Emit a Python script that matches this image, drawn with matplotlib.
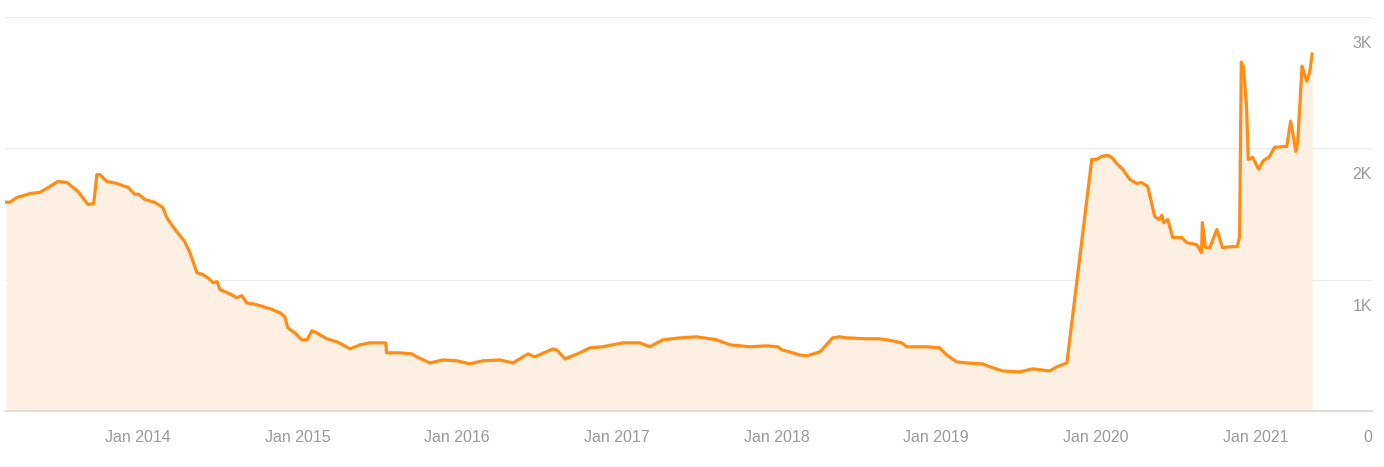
import matplotlib.pyplot as plt
import matplotlib.transforms as mtransforms
import pandas as pd

# values (date, value)
dates = [
    '2013-03-05', '2013-03-14', '2013-03-30', '2013-04-29', '2013-05-22', '2013-06-14',
    '2013-07-02', '2013-07-23', '2013-08-17', '2013-09-09', '2013-09-22', '2013-09-29',
    '2013-10-06', '2013-10-22', '2013-11-14', '2013-12-02', '2013-12-09', '2013-12-25',
    '2014-01-03', '2014-01-17', '2014-02-09', '2014-02-27', '2014-03-08', '2014-03-22',
    '2014-04-07', '2014-04-18', '2014-04-30', '2014-05-16', '2014-05-30', '2014-06-10',
    '2014-06-22', '2014-07-01', '2014-07-08', '2014-07-30', '2014-08-15', '2014-08-27',
    '2014-09-07', '2014-09-30', '2014-10-30', '2014-11-22', '2014-12-03', '2014-12-10',
    '2014-12-26', '2015-01-11', '2015-01-23', '2015-02-03', '2015-02-14', '2015-03-09',
    '2015-04-01', '2015-04-15', '2015-05-01', '2015-05-24', '2015-06-16', '2015-07-08',
    '2015-07-22', '2015-07-24', '2015-08-23', '2015-09-20', '2015-10-01', '2015-10-31',
    '2015-11-30', '2016-01-01', '2016-01-30', '2016-02-29', '2016-04-08', '2016-05-08',
    '2016-06-11', '2016-06-27', '2016-08-07', '2016-08-16', '2016-09-04', '2016-10-08',
    '2016-10-31', '2016-11-29', '2017-01-14', '2017-02-22', '2017-03-17', '2017-04-16',
    '2017-05-25', '2017-07-02', '2017-08-01', '2017-08-17', '2017-09-16', '2017-11-01',
    '2017-12-09', '2018-01-04', '2018-01-13', '2018-01-31', '2018-02-23', '2018-03-11',
    '2018-04-10', '2018-04-21', '2018-05-09', '2018-05-25', '2018-06-10', '2018-07-26',
    '2018-08-25', '2018-09-24', '2018-10-14', '2018-10-26', '2018-12-10', '2019-01-09',
    '2019-01-25', '2019-02-17', '2019-03-12', '2019-04-17', '2019-05-04', '2019-06-02',
    '2019-07-11', '2019-08-10', '2019-09-18', '2019-10-04', '2019-10-27', '2019-12-23',
    '2020-01-03', '2020-01-15', '2020-01-28', '2020-02-07', '2020-02-20', '2020-03-03',
    '2020-03-19', '2020-04-04', '2020-04-15', '2020-04-29', '2020-05-15', '2020-05-26',
    '2020-05-31', '2020-06-04', '2020-06-14', '2020-06-25', '2020-07-16', '2020-07-27',
    '2020-08-19', '2020-08-30', '2020-09-01', '2020-09-08', '2020-09-18', '2020-10-04',
    '2020-10-17', '2020-11-02', '2020-11-20', '2020-11-25', '2020-11-29', '2020-12-04',
    '2020-12-11', '2020-12-15', '2020-12-25', '2021-01-08', '2021-01-17', '2021-02-02',
    '2021-02-13', '2021-03-13', '2021-03-22', '2021-04-03', '2021-04-07', '2021-04-17',
    '2021-04-21', '2021-04-28', '2021-05-05', '2021-05-10',
]
values = [
    1590, 1590, 1625, 1655, 1665, 1710,
    1748, 1740, 1672, 1572, 1580, 1800,
    1800, 1748, 1733, 1710, 1705, 1650,
    1650, 1611, 1588, 1550, 1473, 1405,
    1336, 1290, 1206, 1053, 1038, 1015,
    977, 985, 924, 893, 863, 878,
    824, 809, 779, 748, 718, 634,
    595, 542, 542, 611, 595, 550,
    527, 504, 473, 504, 519, 519,
    519, 443, 443, 435, 412, 366,
    389, 382, 359, 382, 389, 366,
    435, 412, 473, 466, 397, 443,
    481, 489, 519, 519, 489, 542,
    557, 565, 550, 542, 504, 489,
    496, 489, 466, 450, 427, 420,
    450, 489, 557, 565, 557, 550,
    550, 534, 519, 489, 489, 481,
    427, 374, 366, 359, 336, 305,
    298, 321, 305, 336, 366, 1916,
    1916, 1939, 1947, 1930, 1878, 1840,
    1763, 1733, 1740, 1710, 1481, 1458,
    1490, 1435, 1458, 1321, 1321, 1282,
    1267, 1206, 1435, 1244, 1244, 1382,
    1244, 1250, 1252, 1328, 2656, 2618,
    2321, 1916, 1931, 1840, 1901, 1939,
    2008, 2015, 2206, 1977, 2046, 2626,
    2580, 2511, 2588, 2718,
]

xtick_dates = ['2014-01-01', '2015-01-01', '2016-01-01', '2017-01-01',
               '2018-01-01', '2019-01-01', '2020-01-01', '2021-01-01']
xtick_labels = ['Jan 2014', 'Jan 2015', 'Jan 2016', 'Jan 2017',
                'Jan 2018', 'Jan 2019', 'Jan 2020', 'Jan 2021']
yticks = [0, 1000, 2000, 3000]
ytick_labels = ['0', '1K', '2K', '3K']

plt.rcParams['font.family'] = ['Liberation Sans', 'DejaVu Sans']

x = pd.to_datetime(dates)

fig = plt.figure(figsize=(13.84, 4.67), dpi=100)
ax = fig.add_axes([5 / 1384, 56 / 467, 1367 / 1384, 394 / 467])

ax.fill_between(x, values, 0, color='#fdf0e2', linewidth=0)
ax.plot(x, values, color='#ff8c14', linewidth=2.3, solid_joinstyle='round')

ax.set_xlim(pd.Timestamp('2013-03-03'), pd.Timestamp('2021-09-24'))
ax.set_ylim(0, 3000)

# horizontal grid, no frame except the base line
for s in ['top', 'left', 'right']:
    ax.spines[s].set_visible(False)
ax.spines['bottom'].set_color('#dedede')
ax.spines['bottom'].set_linewidth(1.5)
ax.set_yticks(yticks)
ax.yaxis.grid(True, color='#ebebeb', linewidth=1)
ax.tick_params(axis='y', length=0, labelleft=False)
ax.set_axisbelow(True)

ax.set_xticks(pd.to_datetime(xtick_dates))
ax.set_xticklabels(xtick_labels)
ax.tick_params(axis='x', direction='in', length=10, width=1, color='#ebe3da',
               pad=14, labelsize=11.5, labelcolor='#999999')

# y labels sit at the right edge, just below each grid line
trans = mtransforms.blended_transform_factory(ax.transAxes, ax.transData)
for val, lab in zip(yticks, ytick_labels):
    ax.annotate(lab, xy=(1, val), xycoords=trans, xytext=(0, -19),
                textcoords='offset pixels', ha='right', va='top',
                fontsize=11.5, color='#999999')

fig.savefig('out.png', dpi=100)
